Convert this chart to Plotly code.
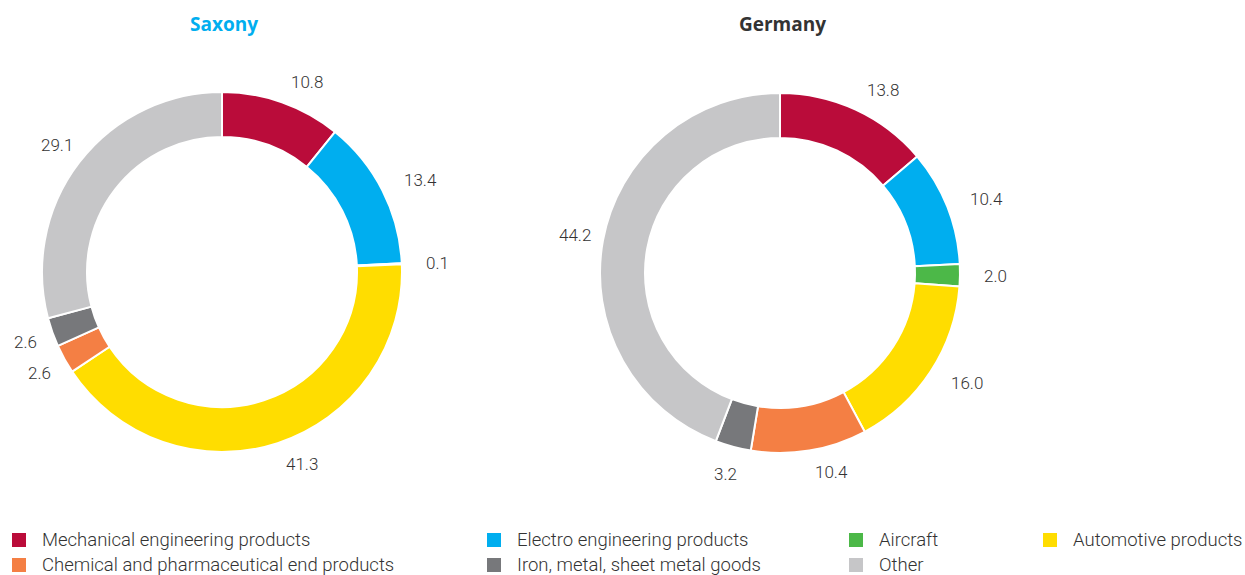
import numpy as np
import plotly.graph_objects as go

W, H = 1245, 575

categories = ["Mechanical engineering products", "Electro engineering products", "Aircraft",
              "Automotive products", "Chemical and pharmaceutical end products",
              "Iron, metal, sheet metal goods", "Other"]
saxony = [10.8, 13.4, 0.1, 41.3, 2.6, 2.6, 29.1]
germany = [13.8, 10.4, 2.0, 16.0, 10.4, 3.2, 44.2]
titles = ["Saxony", "Germany"]

colors = ["#BA0C3A", "#00AEEF", "#4CB848", "#FFDD00", "#F47F44", "#77787B", "#C6C6C8"]
title_colors = ["#00AEEF", "#333333"]

# pie geometry in pixels: (center x, center y from top, outer radius)
geoms = [(222, 272, 180), (780, 273, 180)]

fig = go.Figure()
annotations = []
for vals, title, tcol, (cx, cy, r) in zip([saxony, germany], titles, title_colors, geoms):
    fig.add_trace(go.Pie(
        labels=categories, values=vals, sort=False, direction="clockwise", rotation=0,
        hole=0.75, textinfo="none", showlegend=False,
        marker=dict(colors=colors, line=dict(color="white", width=2)),
        domain=dict(x=[(cx - r) / W, (cx + r) / W], y=[(H - cy - r) / H, (H - cy + r) / H]),
    ))
    total = sum(vals)
    cum = np.cumsum([0] + vals)
    for i, v in enumerate(vals):
        mid = (cum[i] + v / 2) / total * 2 * np.pi
        s, c = np.sin(mid), np.cos(mid)
        if s > 0.05:
            lr, anchor = r + 22, "left"
        else:
            lr, anchor = r + 28, "center"
        x = cx + lr * s
        y = cy - lr * c
        annotations.append(dict(x=x / W, y=1 - y / H, xref="paper", yref="paper",
                                text=f"{v:.1f}", showarrow=False, xanchor=anchor, yanchor="middle",
                                font=dict(family="Roboto", size=17, color="#333333", weight=300)))
    annotations.append(dict(x=(cx + 2) / W, y=1 - 24 / H, xref="paper", yref="paper", text=f"<b>{title}</b>",
                            showarrow=False, xanchor="center", yanchor="middle",
                            font=dict(family="Open Sans", size=19, color=tcol)))

# custom legend
leg_x = [12, 487, 849, 1043]
leg_y = [540, 565]
shapes = []
for i, (cat, col) in enumerate(zip(categories, colors)):
    row, c = divmod(i, 4)
    x0 = leg_x[c]
    yc = leg_y[row]
    shapes.append(dict(type="rect", xref="paper", yref="paper",
                       x0=x0 / W, x1=(x0 + 14) / W, y0=1 - (yc + 7) / H, y1=1 - (yc - 7) / H,
                       fillcolor=col, line=dict(width=0)))
    annotations.append(dict(x=(x0 + 28) / W, y=1 - yc / H, xref="paper", yref="paper", text=cat,
                            showarrow=False, xanchor="left", yanchor="middle",
                            font=dict(family="Roboto", size=18.5, color="#333333", weight=300)))

fig.update_layout(width=W, height=H, margin=dict(l=0, r=0, t=0, b=0),
                  paper_bgcolor="white", plot_bgcolor="white",
                  annotations=annotations, shapes=shapes)
fig.write_html("out.html", config={"displayModeBar": False},
               post_script="document.body.style.margin='0px';")
